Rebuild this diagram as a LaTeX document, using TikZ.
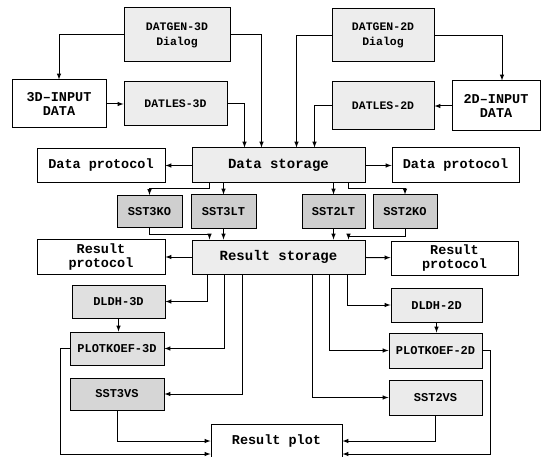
\documentclass[tikz,border=0pt]{standalone}
\usepackage{fontspec}
\setmonofont{Liberation Mono}
\usepackage{tikz}

\begin{document}
\begin{tikzpicture}[x=1pt,y=-1pt,->,>=latex,line width=1pt,
    plainbox/.style={draw,fill=white,inner sep=0pt,align=center,font=\ttfamily\bfseries\fontsize{13.5}{14}\selectfont},
    lightbox/.style={draw,fill=gray!14,inner sep=0pt,align=center,font=\ttfamily\bfseries\fontsize{11.5}{15}\selectfont},
    darkbox/.style={draw,fill=gray!38,inner sep=0pt,align=center,font=\ttfamily\bfseries\fontsize{12}{13}\selectfont},
    midbox/.style={draw,fill=gray!24,inner sep=0pt,align=center,font=\ttfamily\bfseries\fontsize{12}{13}\selectfont}]
    \useasboundingbox (0,0) rectangle (543,457);
    % input side
    \node[lightbox, minimum width=106pt, minimum height=54pt] (gen3) at (177,35) {DATGEN-3D\\Dialog};
    \node[lightbox, minimum width=102pt, minimum height=53pt] (gen2) at (383,35.5) {DATGEN-2D\\Dialog};
    \node[plainbox, minimum width=94pt, minimum height=48pt] (in3) at (59,104) {3D–INPUT\\DATA};
    \node[lightbox, minimum width=103pt, minimum height=44pt] (les3) at (175.5,104) {DATLES-3D};
    \node[lightbox, minimum width=102pt, minimum height=48pt] (les2) at (383,106) {DATLES-2D};
    \node[plainbox, minimum width=88pt, minimum height=50pt] (in2) at (496,106) {2D–INPUT\\DATA};
    % data storage
    \node[lightbox, minimum width=173pt, minimum height=35pt, font=\ttfamily\bfseries\fontsize{14}{15}\selectfont] (dstor) at (278.5,165.5) {Data storage};
    \node[plainbox, minimum width=128pt, minimum height=34pt] (dprot3) at (101,165.5) {Data protocol};
    \node[plainbox, minimum width=127pt, minimum height=35pt] (dprot2) at (455.5,165.5) {Data protocol};
    \node[darkbox, minimum width=65pt, minimum height=32pt] (sst3ko) at (149.5,211.5) {SST3KO};
    \node[darkbox, minimum width=65pt, minimum height=33pt] (sst3lt) at (223.5,211.5) {SST3LT};
    \node[darkbox, minimum width=63pt, minimum height=33pt] (sst2lt) at (333.5,211.5) {SST2LT};
    \node[darkbox, minimum width=64pt, minimum height=33pt] (sst2ko) at (405,211.5) {SST2KO};
    % result storage
    \node[lightbox, minimum width=173pt, minimum height=34pt, font=\ttfamily\bfseries\fontsize{14}{15}\selectfont] (rstor) at (278.5,257) {Result storage};
    \node[plainbox, minimum width=128pt, minimum height=35pt] (rprot3) at (101,257) {Result\\protocol};
    \node[plainbox, minimum width=127pt, minimum height=34pt] (rprot2) at (454.5,258) {Result\\protocol};
    \node[midbox, minimum width=93pt, minimum height=33pt] (dldh3) at (118.5,301.5) {DLDH-3D};
    \node[midbox, fill=gray!16, minimum width=91pt, minimum height=34pt] (dldh2) at (436.5,305) {DLDH-2D};
    \node[midbox, minimum width=94pt, minimum height=33pt] (plot3) at (117,348.5) {PLOTKOEF-3D};
    \node[midbox, fill=gray!16, minimum width=93pt, minimum height=35pt] (plot2) at (435.5,350.5) {PLOTKOEF-2D};
    \node[midbox, fill=gray!32, minimum width=94pt, minimum height=32pt] (vs3) at (117,394) {SST3VS};
    \node[midbox, fill=gray!16, minimum width=93pt, minimum height=35pt] (vs2) at (435.5,397.5) {SST2VS};
    \node[plainbox, minimum width=131pt, minimum height=34pt] (rplot) at (276.5,441) {Result plot};

    % inputs to data storage
    \draw (gen3.west) -| (in3.north);
    \draw (gen3.east) -| ([xshift=70pt]dstor.north west);
    \draw (in3) -- (les3);
    \draw (les3.east) -| ([xshift=53pt]dstor.north west);
    \draw (gen2.west) -| ([xshift=105pt]dstor.north west);
    \draw (les2.west) -| ([xshift=123pt]dstor.north west);
    \draw (gen2.east) -| ([xshift=6pt]in2.north);
    \draw (in2) -- (les2);
    \draw (dstor) -- (dprot3);
    \draw (dstor) -- (dprot2);
    % data storage to programs
    \draw ([xshift=18pt]dstor.south west) -- ++(0,5) -| (sst3ko.north);
    \draw (dstor.south -| sst3lt.north) -- (sst3lt.north);
    \draw (dstor.south -| sst2lt.north) -- (sst2lt.north);
    \draw ([xshift=-17pt]dstor.south east) -- ++(0,5) -| (sst2ko.north);
    % programs to result storage
    \draw (sst3ko.south) -- ++(0,6) -| ([xshift=18pt]rstor.north west);
    \draw (sst3lt.south) -- (sst3lt.south |- rstor.north);
    \draw (sst2lt.south) -- (sst2lt.south |- rstor.north);
    \draw (sst2ko.south) -- ++(0,8) -| ([xshift=-17pt]rstor.north east);
    \draw (rstor) -- (rprot3);
    \draw (rstor) -- (rprot2);
    % result storage to output programs
    \draw ([xshift=16pt]rstor.south west) |- (dldh3.east);
    \draw ([xshift=33pt]rstor.south west) |- (plot3.east);
    \draw ([xshift=51pt]rstor.south west) |- (vs3.east);
    \draw ([xshift=-18pt]rstor.south east) |- (dldh2.west);
    \draw ([xshift=-36pt]rstor.south east) |- (plot2.west);
    \draw ([xshift=-53pt]rstor.south east) |- (vs2.west);
    \draw (dldh3.south) -- (dldh3.south |- plot3.north);
    \draw (dldh2.south) -- (dldh2.south |- plot2.north);
    % plotting
    \draw (plot3.west) -- ++(-9,0) |- ([yshift=-13pt]rplot.west);
    \draw (vs3.south) |- (rplot.west);
    \draw (vs2.south) |- (rplot.east);
    \draw (plot2.east) -- ++(8,0) |- ([yshift=-13pt]rplot.east);
\end{tikzpicture}
\end{document}
